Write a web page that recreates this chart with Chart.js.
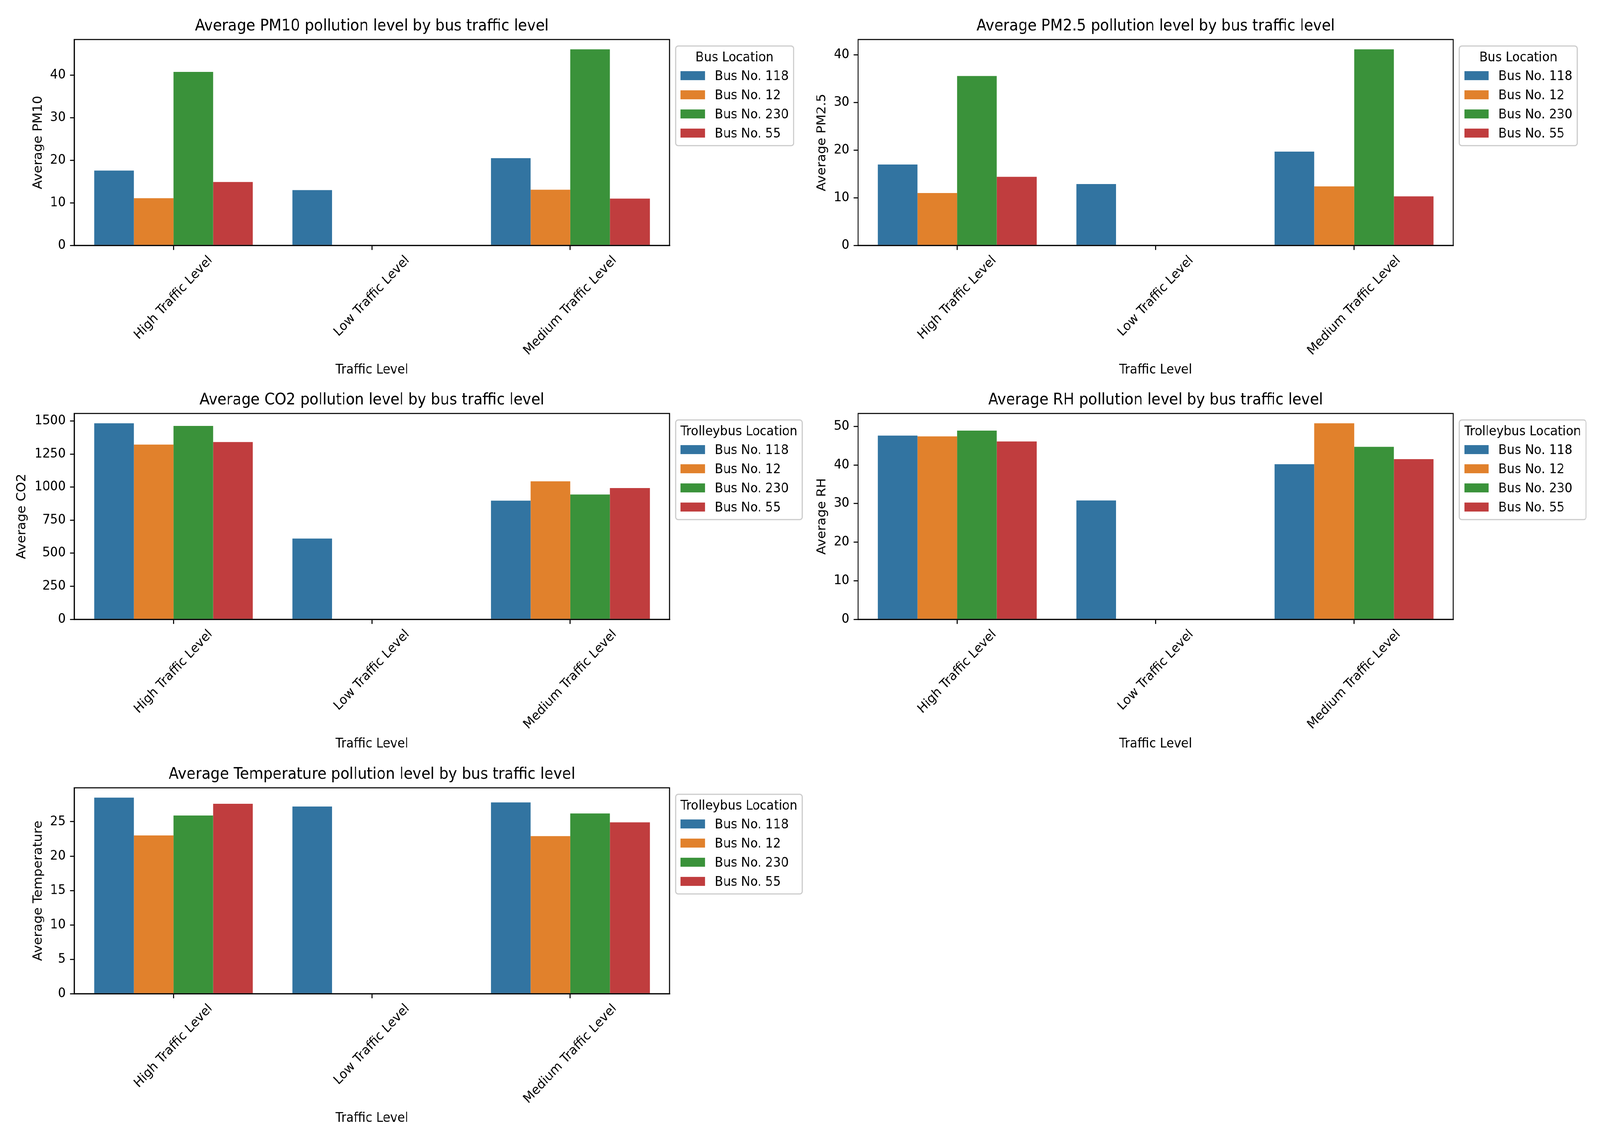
<!DOCTYPE html>
<html>
<head>
<meta charset="utf-8">
<title>Average pollution level by bus traffic level</title>
<script src="https://cdn.jsdelivr.net/npm/chart.js@4.4.0/dist/chart.umd.min.js"></script>
<style>
  html, body { margin: 0; padding: 0; background: #fff; overflow: hidden; }
  #frame { position: relative; overflow: hidden; background: #fff; }
  #page { position: absolute; left: 0; top: 0; width: 4373px; height: 2920px; overflow: hidden; background: #fff; transform-origin: 0 0; }
  #page canvas { position: absolute; }
</style>
</head>
<body>
<div id="frame">
<div id="page">
  <canvas id="pm10Chart" width="2200" height="968" style="left:0px;top:0px;width:2200px;height:968px"></canvas>
  <canvas id="pm25Chart" width="2200" height="968" style="left:2142px;top:0px;width:2200px;height:968px"></canvas>
  <canvas id="co2Chart" width="2200" height="968" style="left:0px;top:957px;width:2200px;height:968px"></canvas>
  <canvas id="rhChart" width="2200" height="968" style="left:2142px;top:957px;width:2200px;height:968px"></canvas>
  <canvas id="tempChart" width="2200" height="968" style="left:0px;top:1915px;width:2200px;height:968px"></canvas>
</div>
</div>
<script>
// the browser may give a narrower viewport than 4373x2920: stretch the page to fill it
const scaleX = window.innerWidth / 4373;
const scaleY = window.innerHeight / 2920;
const frame = document.getElementById('frame');
frame.style.width = window.innerWidth + 'px';
frame.style.height = window.innerHeight + 'px';
document.getElementById('page').style.transform = 'scale(' + scaleX + ',' + scaleY + ')';

// categories and series
const trafficLevels = ['High Traffic Level', 'Low Traffic Level', 'Medium Traffic Level'];
const busNames = ['Bus No. 118', 'Bus No. 12', 'Bus No. 230', 'Bus No. 55'];
const busColors = ['#3274a1', '#e1812c', '#3a923a', '#c03d3e'];

// one row per bus, one value per traffic level (null = no bar)
const pm10Values = [
  [17.6, 13.0, 20.5],
  [11.1, null, 13.1],
  [40.8, null, 46.1],
  [14.9, null, 11.0]
];
const pm25Values = [
  [17.0, 12.9, 19.7],
  [11.0, null, 12.4],
  [35.6, null, 41.2],
  [14.4, null, 10.3]
];
const co2Values = [
  [1483, 611, 898],
  [1322, null, 1044],
  [1463, null, 944],
  [1341, null, 993]
];
const rhValues = [
  [47.6, 30.8, 40.2],
  [47.4, null, 50.8],
  [48.9, null, 44.7],
  [46.1, null, 41.5]
];
const tempValues = [
  [28.5, 27.2, 27.8],
  [23.0, null, 22.9],
  [25.9, null, 26.2],
  [27.6, null, 24.9]
];

// y tick labels
const pm10Ticks = [0, 10, 20, 30, 40];
const pm25Ticks = [0, 10, 20, 30, 40];
const co2Ticks = [0, 250, 500, 750, 1000, 1250, 1500];
const rhTicks = [0, 10, 20, 30, 40, 50];
const tempTicks = [0, 5, 10, 15, 20, 25];

// font sizes (10pt / 12pt at the picture's resolution)
const FS = 33.4;
const TITLE_FS = 40.1;
const FAMILY = "'DejaVu Sans'";

Chart.defaults.font.family = FAMILY;
Chart.defaults.color = '#000';

// black box round the plot area, like the matplotlib spines
const axesFrame = {
  id: 'axesFrame',
  afterDatasetsDraw(chart) {
    const { ctx, chartArea: a } = chart;
    ctx.save();
    ctx.strokeStyle = '#000';
    ctx.lineWidth = 2.7;
    ctx.strokeRect(a.left, a.top, a.right - a.left, a.bottom - a.top);
    ctx.restore();
  }
};

// x tick labels rotated 45 degrees and centred under their tick
const slantedTicks = {
  id: 'slantedTicks',
  afterDraw(chart) {
    const { ctx, chartArea: a } = chart;
    const xs = chart.scales.x;
    ctx.save();
    ctx.font = FS + 'px ' + FAMILY;
    ctx.fillStyle = '#000';
    ctx.textAlign = 'center';
    ctx.textBaseline = 'middle';
    xs.ticks.forEach((t, i) => {
      const label = xs.getLabelForValue(t.value);
      const w = ctx.measureText(label).width;
      const cx = xs.getPixelForTick(i);
      const cy = a.bottom + 20.4 + (w + 36) * Math.SQRT1_2 / 2;
      ctx.save();
      ctx.translate(cx, cy);
      ctx.rotate(-Math.PI / 4);
      ctx.fillText(label, 0, 0);
      ctx.restore();
    });
    ctx.restore();
  }
};

// legend outside the axes, upper left corner at the top right of the plot
const boxLegend = {
  id: 'boxLegend',
  afterDraw(chart, args, opts) {
    const { ctx, chartArea: a } = chart;
    const sets = chart.data.datasets;
    const x0 = a.right + 0.5 * FS;
    const y0 = a.top + 0.5 * FS;
    ctx.save();
    ctx.font = FS + 'px ' + FAMILY;
    const textW = Math.max(...sets.map(d => ctx.measureText(d.label).width));
    const titleW = ctx.measureText(opts.title).width;
    const pad = 0.4 * FS, handleW = 2 * FS, gap = 0.8 * FS;
    const w = 2 * pad + Math.max(titleW, handleW + gap + textW);
    const h = 255;
    const r = 0.2 * FS;

    // rounded frame
    ctx.beginPath();
    ctx.moveTo(x0 + r, y0);
    ctx.lineTo(x0 + w - r, y0);
    ctx.arcTo(x0 + w, y0, x0 + w, y0 + r, r);
    ctx.lineTo(x0 + w, y0 + h - r);
    ctx.arcTo(x0 + w, y0 + h, x0 + w - r, y0 + h, r);
    ctx.lineTo(x0 + r, y0 + h);
    ctx.arcTo(x0, y0 + h, x0, y0 + h - r, r);
    ctx.lineTo(x0, y0 + r);
    ctx.arcTo(x0, y0, x0 + r, y0, r);
    ctx.closePath();
    ctx.fillStyle = 'rgba(255,255,255,0.8)';
    ctx.fill();
    ctx.strokeStyle = '#cccccc';
    ctx.lineWidth = 3;
    ctx.stroke();

    ctx.fillStyle = '#000';
    ctx.textBaseline = 'alphabetic';
    ctx.textAlign = 'center';
    ctx.fillText(opts.title, x0 + w / 2, y0 + 38.7);

    ctx.textAlign = 'left';
    sets.forEach((d, i) => {
      const base = y0 + 87 + i * 49;
      ctx.fillStyle = d.backgroundColor;
      ctx.fillRect(x0 + pad, base - 22.7, handleW, 23);
      ctx.fillStyle = '#000';
      ctx.fillText(d.label, x0 + pad + handleW + gap, base);
    });
    ctx.restore();
  }
};

function drawPanel(canvasId, title, yLabel, legendTitle, values, yTicks, yTitlePad) {
  const allValues = values.flat().filter(v => v !== null);
  const yMax = Math.max(...allValues) * 1.05;

  const datasets = busNames.map((name, i) => ({
    label: name,
    data: values[i],
    backgroundColor: busColors[i],
    borderWidth: 0,
    categoryPercentage: 0.8,
    barPercentage: 1.0
  }));

  const config = {
    type: 'bar',
    data: { labels: trafficLevels, datasets: datasets },
    options: {
      responsive: false,
      animation: false,
      devicePixelRatio: 1,
      layout: { padding: { left: 0, top: 0, right: 370, bottom: 0 } },
      plugins: {
        legend: { display: false },
        tooltip: { enabled: false },
        title: {
          display: true,
          text: title,
          fullSize: false,
          color: '#000',
          font: { size: TITLE_FS, weight: 'normal' },
          padding: { top: 44, bottom: 9 }
        },
        boxLegend: { title: legendTitle }
      },
      scales: {
        x: {
          offset: true,
          grid: {
            display: true, offset: false, drawOnChartArea: false,
            drawTicks: true, tickLength: 11.7, color: '#000', lineWidth: 2.7
          },
          border: { display: true, color: '#000', width: 2.7 },
          ticks: { display: false },
          title: {
            display: true, text: 'Traffic Level', color: '#000',
            font: { size: FS }, padding: { top: 0, bottom: 1 }
          },
          afterFit(scale) { scale.height = 340; }
        },
        y: {
          min: 0,
          max: yMax,
          grid: {
            drawOnChartArea: false, drawTicks: true, tickLength: 11.7,
            color: '#000', lineWidth: 2.7
          },
          border: { display: true, color: '#000', width: 2.7 },
          ticks: {
            padding: 11.7,
            color: '#000',
            font: { size: FS },
            callback: v => String(v)
          },
          afterBuildTicks(scale) {
            scale.ticks = yTicks.map(v => ({ value: v }));
          },
          title: {
            display: true, text: yLabel, color: '#000',
            font: { size: FS }, padding: { top: yTitlePad, bottom: 0 }
          },
          afterFit(scale) { scale.width = 203; }
        }
      }
    },
    plugins: [axesFrame, slantedTicks, boxLegend]
  };

  const ctx = document.getElementById(canvasId).getContext('2d');
  return new Chart(ctx, config);
}

drawPanel('pm10Chart', 'Average PM10 pollution level by bus traffic level', 'Average PM10', 'Bus Location', pm10Values, pm10Ticks, 85);
drawPanel('pm25Chart', 'Average PM2.5 pollution level by bus traffic level', 'Average PM2.5', 'Bus Location', pm25Values, pm25Ticks, 85);
drawPanel('co2Chart', 'Average CO2 pollution level by bus traffic level', 'Average CO2', 'Trolleybus Location', co2Values, co2Ticks, 40);
drawPanel('rhChart', 'Average RH pollution level by bus traffic level', 'Average RH', 'Trolleybus Location', rhValues, rhTicks, 85);
drawPanel('tempChart', 'Average Temperature pollution level by bus traffic level', 'Average Temperature', 'Trolleybus Location', tempValues, tempTicks, 85);
</script>
</body>
</html>
